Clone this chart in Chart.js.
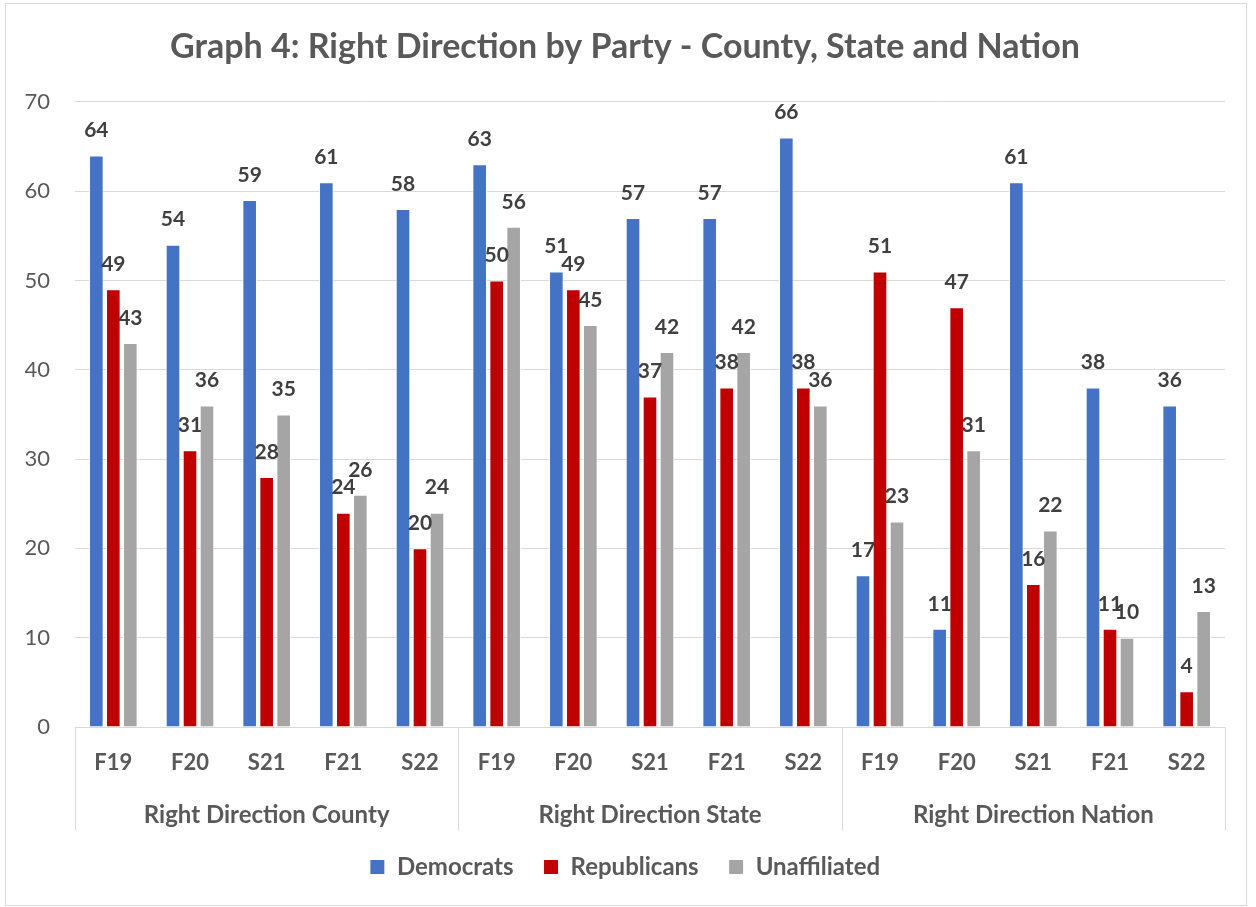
<!DOCTYPE html>
<html>
<head>
<meta charset="utf-8">
<script src="https://cdn.jsdelivr.net/npm/chart.js@4/dist/chart.umd.min.js"></script>
<style>
  html, body { margin: 0; padding: 0; background: #fff; }
  #wrap { width: 1256px; height: 907px; position: relative; }
</style>
</head>
<body>
<div id="wrap"><canvas id="c" width="1256" height="907"></canvas></div>
<script>
const titleText = 'Graph 4: Right Direction by Party - County, State and Nation';
const groups = ['Right Direction County', 'Right Direction State', 'Right Direction Nation'];
const periods = ['F19', 'F20', 'S21', 'F21', 'S22'];
const categories = [].concat(periods, periods, periods);
const democrats    = [64, 54, 59, 61, 58,  63, 51, 57, 57, 66,  17, 11, 61, 38, 36];
const republicans  = [49, 31, 28, 24, 20,  50, 49, 37, 38, 38,  51, 47, 16, 11, 4];
const unaffiliated = [43, 36, 35, 26, 24,  56, 45, 42, 42, 36,  23, 31, 22, 10, 13];
const yTicks = [0, 10, 20, 30, 40, 50, 60, 70];

const FONT = 'Lato, "Open Sans", "Liberation Sans", sans-serif';
const TEXT = '#595959';
const GRID = '#D9D9D9';

const decorPlugin = {
  id: 'decor',
  beforeDraw(chart) {
    const ctx = chart.ctx;
    ctx.save();
    ctx.fillStyle = '#fff';
    ctx.fillRect(0, 0, chart.width, chart.height);
    ctx.strokeStyle = GRID;
    ctx.lineWidth = 1;
    ctx.strokeRect(5.5, 3.5, 1241, 902);
    ctx.restore();
  },
  afterDraw(chart) {
    const ctx = chart.ctx;
    const x = chart.scales.x;
    const area = chart.chartArea;
    const n = categories.length;
    const step = (area.right - area.left) / n;
    const axisY = Math.round(area.bottom) + 0.5;
    ctx.save();
    ctx.strokeStyle = GRID;
    ctx.lineWidth = 1;
    ctx.beginPath();
    ctx.moveTo(area.left, axisY);
    ctx.lineTo(area.right, axisY);
    for (let g = 0; g <= groups.length; g++) {
      const idx = g * periods.length;
      const px = idx < n ? x.getPixelForValue(idx) - step / 2 : x.getPixelForValue(n - 1) + step / 2;
      const lx = Math.round(px) + 0.5;
      ctx.moveTo(lx, axisY);
      ctx.lineTo(lx, axisY + 103);
    }
    ctx.stroke();
    ctx.fillStyle = TEXT;
    ctx.font = 'bold 24px ' + FONT;
    ctx.textAlign = 'center';
    ctx.textBaseline = 'middle';
    groups.forEach((g, gi) => {
      const a = x.getPixelForValue(gi * periods.length) - step / 2;
      const b = x.getPixelForValue(gi * periods.length + periods.length - 1) + step / 2;
      ctx.fillText(g, (a + b) / 2, axisY + 88);
    });
    // data labels
    ctx.fillStyle = '#404040';
    ctx.font = 'bold 21px ' + FONT;
    chart.data.datasets.forEach((ds, di) => {
      const meta = chart.getDatasetMeta(di);
      meta.data.forEach((bar, i) => {
        ctx.fillText(String(ds.data[i]), bar.x, bar.y - 25);
      });
    });
    ctx.restore();
  }
};

const bw = 1;
new Chart(document.getElementById('c'), {
  type: 'bar',
  data: {
    labels: categories,
    datasets: [
      { label: 'Democrats', data: democrats, backgroundColor: '#4472C4', borderColor: '#ffffff', borderWidth: bw },
      { label: 'Republicans', data: republicans, backgroundColor: '#C00000', borderColor: '#ffffff', borderWidth: bw },
      { label: 'Unaffiliated', data: unaffiliated, backgroundColor: '#A5A5A5', borderColor: '#ffffff', borderWidth: bw }
    ]
  },
  options: {
    responsive: false,
    animation: false,
    devicePixelRatio: 1,
    categoryPercentage: 0.665,
    barPercentage: 0.86,
    layout: { padding: { left: 25, right: 31, top: 0, bottom: 18 } },
    plugins: {
      title: {
        display: true,
        text: titleText,
        color: TEXT,
        font: { family: FONT, size: 34, weight: 'bold' },
        padding: { top: 27, bottom: 34 }
      },
      legend: {
        position: 'bottom',
        labels: {
          color: TEXT,
          font: { family: FONT, size: 24, weight: 'bold' },
          boxWidth: 15,
          boxHeight: 15,
          padding: 30
        }
      },
      tooltip: { enabled: false }
    },
    scales: {
      x: {
        grid: { display: false, drawTicks: false },
        border: { display: false },
        ticks: { color: TEXT, font: { family: FONT, size: 22, weight: 'bold' }, padding: 23, maxRotation: 0, autoSkip: false },
        afterFit(scale) { scale.height = 98; }
      },
      y: {
        min: 0, max: 70,
        afterBuildTicks(scale) { scale.ticks = yTicks.map(v => ({ value: v })); },
        grid: { color: GRID, lineWidth: 1, drawTicks: false },
        border: { display: false },
        ticks: { color: TEXT, font: { family: FONT, size: 22 }, padding: 25 },
        afterFit(scale) { scale.width = 50; }
      }
    }
  },
  plugins: [decorPlugin]
});
</script>
</body>
</html>
